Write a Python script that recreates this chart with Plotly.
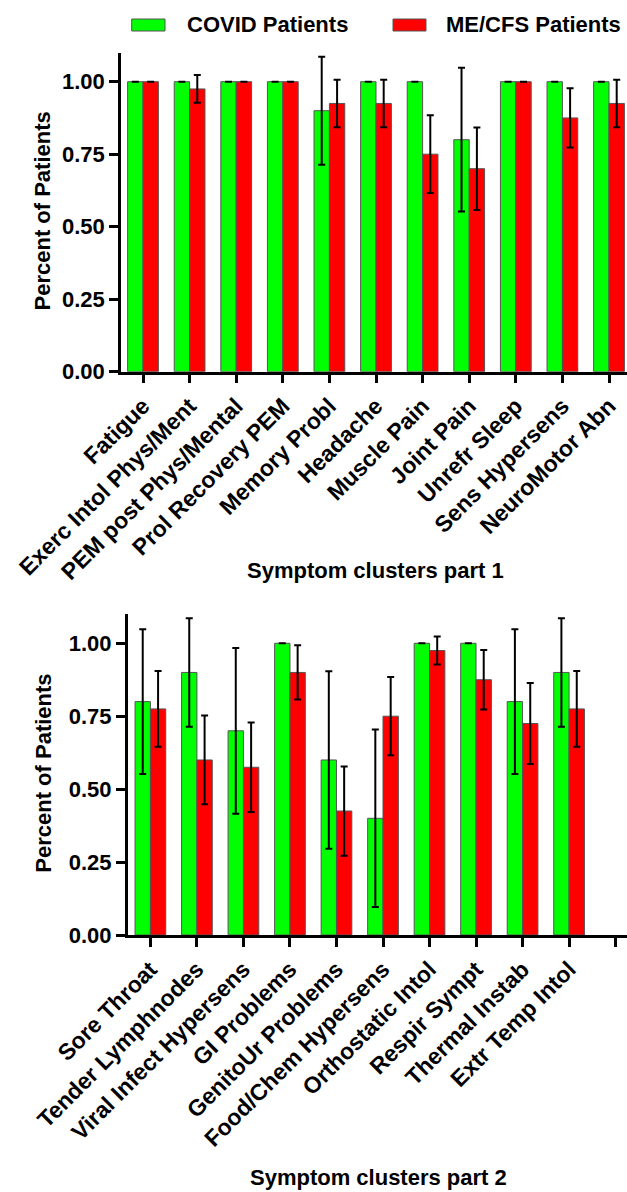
import plotly.graph_objects as go

# ---------------- data ----------------
cats1 = ["Fatigue", "Exerc Intol Phys/Ment", "PEM post Phys/Mental", "Prol Recovery PEM",
         "Memory Probl", "Headache", "Muscle Pain", "Joint Pain", "Unrefr Sleep",
         "Sens Hypersens", "NeuroMotor Abn"]
covid1 = [1.0, 1.0, 1.0, 1.0, 0.90, 1.0, 1.0, 0.80, 1.0, 1.0, 1.0]
covid1_err = [None, None, None, None, 0.186, None, None, 0.248, None, None, None]
mecfs1 = [1.0, 0.975, 1.0, 1.0, 0.925, 0.925, 0.75, 0.70, 1.0, 0.875, 0.925]
mecfs1_err = [None, 0.048, None, None, 0.082, 0.082, 0.134, 0.142, None, 0.102, 0.082]

cats2 = ["Sore Throat", "Tender Lymphnodes", "Viral Infect Hypersens", "GI Problems",
         "GenitoUr Problems", "Food/Chem Hypersens", "Orthostatic Intol", "Respir Sympt",
         "Thermal Instab", "Extr Temp Intol"]
covid2 = [0.80, 0.90, 0.70, 1.0, 0.60, 0.40, 1.0, 1.0, 0.80, 0.90]
covid2_err = [0.248, 0.186, 0.284, None, 0.304, 0.304, None, None, 0.248, 0.186]
mecfs2 = [0.775, 0.60, 0.575, 0.90, 0.425, 0.75, 0.975, 0.875, 0.725, 0.775]
mecfs2_err = [0.130, 0.152, 0.153, 0.093, 0.153, 0.134, 0.048, 0.102, 0.139, 0.130]

yticks = [0, 0.25, 0.5, 0.75, 1.0]
ytick_text = ["0.00", "0.25", "0.50", "0.75", "1.00"]
series_names = ["COVID Patients", "ME/CFS Patients"]
colors = ["#00FF00", "#FF0000"]

# ---------------- layout helpers ----------------
W, H = 627, 1192
FONT = "Liberation Sans, Arial, Helvetica, sans-serif"


def px_x(x):
    return x / W


def px_y(y):
    return 1 - y / H


fig = go.Figure()

panels = [
    (cats1, covid1, covid1_err, mecfs1, mecfs1_err, "x", "y"),
    (cats2, covid2, covid2_err, mecfs2, mecfs2_err, "x2", "y2"),
]
for cats, g, ge, r, re_, xa, ya in panels:
    pos = list(range(len(cats)))
    for name, vals, errs, col in [(series_names[0], g, ge, colors[0]),
                                  (series_names[1], r, re_, colors[1])]:
        fig.add_trace(go.Bar(
            x=pos, y=vals, name=name, xaxis=xa, yaxis=ya,
            marker=dict(color=col, line=dict(color="#555555", width=1)),
            error_y=dict(type="data", array=errs, visible=True,
                         color="black", thickness=2, width=3.5),
            showlegend=False,
        ))

tickfont_y = dict(family=FONT, size=22, color="black", weight="bold")
tickfont_x = dict(family=FONT, size=23, color="black", weight="bold")

common_y = dict(range=[0, 1.1], tickvals=yticks, ticktext=ytick_text,
                showline=True, linecolor="black", linewidth=2.5,
                ticks="outside", ticklen=9, tickwidth=2.5, tickcolor="black",
                showgrid=False, zeroline=False, tickfont=tickfont_y,
                automargin=False)
common_x = dict(showline=True, linecolor="black", linewidth=2.5,
                ticks="outside", ticklen=9, tickwidth=2.5, tickcolor="black",
                showgrid=False, zeroline=False, tickangle=-45, tickfont=tickfont_x,
                automargin=False)

fig.update_layout(
    width=W, height=H,
    margin=dict(l=0, r=0, t=0, b=0, pad=0, autoexpand=False),
    paper_bgcolor="white", plot_bgcolor="white",
    barmode="group", bargap=0.34, bargroupgap=0,
    xaxis=dict(domain=[px_x(121), 1], range=[-0.472, 10.386],
               tickvals=list(range(len(cats1))), ticktext=cats1,
               anchor="y", **common_x),
    yaxis=dict(domain=[px_y(371.7), px_y(52.7)], anchor="x", **common_y),
    xaxis2=dict(domain=[px_x(127.7), 1], range=[-0.488, 10.245],
                tickvals=list(range(len(cats2) + 1)), ticktext=cats2 + [""],
                anchor="y2", **common_x),
    yaxis2=dict(domain=[px_y(935), px_y(614.1)], anchor="x2", **common_y),
)

title_font = dict(family=FONT, size=22, color="black", weight="bold")
ann = [
    dict(text="Percent of Patients", x=px_x(42), y=px_y(211.5), textangle=-90),
    dict(text="Percent of Patients", x=px_x(44), y=px_y(773.7), textangle=-90),
    dict(text="Symptom clusters part 1", x=px_x(375), y=px_y(570)),
    dict(text="Symptom clusters part 2", x=px_x(378), y=px_y(1177)),
    dict(text=series_names[0], x=px_x(185), y=px_y(25), xanchor="left"),
    dict(text=series_names[1], x=px_x(444), y=px_y(25), xanchor="left"),
]
for a in ann:
    a.setdefault("xanchor", "center")
    fig.add_annotation(xref="paper", yref="paper", showarrow=False,
                       yanchor="middle", font=title_font, **a)

# legend swatches
for (x0, x1), col in [((131.7, 165), colors[0]), ((393, 426), colors[1])]:
    fig.add_shape(type="rect", xref="paper", yref="paper",
                  x0=px_x(x0), x1=px_x(x1), y0=px_y(31), y1=px_y(19),
                  fillcolor=col, line=dict(color="#555555", width=1))

fig.write_html("out.html", config={"displayModeBar": False},
               post_script="document.body.style.margin='0';")
